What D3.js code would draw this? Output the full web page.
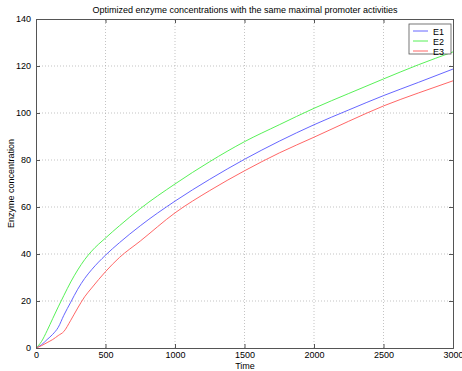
<!doctype html>
<html>
<head>
<meta charset="utf-8">
<script src="https://cdn.jsdelivr.net/npm/d3@7"></script>
<style>
  body { margin: 0; background: #fff; }
  svg { font-family: "Liberation Sans", Helvetica, Arial, sans-serif; }
</style>
</head>
<body>
<script>
const time = [0, 40, 80, 120, 160, 200, 250, 300, 350, 400, 500, 600, 750, 1000, 1250, 1500, 1750, 2000, 2250, 2500, 2750, 3000];
const e1 = [0, 1.4, 3.6, 5.8, 8.8, 13.9, 19.5, 25, 29.6, 33.3, 39.5, 44.8, 52, 62.5, 71.8, 80.3, 88, 95, 101.3, 107.4, 113, 118.7];
const e2 = [0, 2.8, 7.4, 12.5, 17.5, 22.3, 28.1, 33.2, 37.6, 41.2, 46.8, 52, 59.3, 69.8, 79.3, 87.8, 95, 102, 108.3, 114.5, 120.5, 126];
const e3 = [0, 1, 2.3, 3.6, 5.3, 7, 11.8, 17, 21.8, 25.5, 32.5, 38.5, 45.5, 57.5, 67, 75.4, 83, 89.7, 96.5, 103, 108.5, 113.7];
const seriesNames = ["E1", "E2", "E3"];
const seriesColors = ["#5555ff", "#44ee44", "#ff5555"];
const xTicks = [0, 500, 1000, 1500, 2000, 2500, 3000];
const yTicks = [0, 20, 40, 60, 80, 100, 120, 140];

const W = 462, H = 371;
const margin = {left: 36, right: 9, top: 19, bottom: 23};
const svg = d3.select("body").append("svg").attr("width", W).attr("height", H);

const x = d3.scaleLinear().domain([0, 3000]).range([margin.left, W - margin.right]);
const y = d3.scaleLinear().domain([0, 140]).range([H - margin.bottom, margin.top]);

// grid
svg.append("g").selectAll("line").data(xTicks.slice(1, -1)).join("line")
  .attr("x1", d => x(d)).attr("x2", d => x(d))
  .attr("y1", y(0)).attr("y2", y(140))
  .attr("stroke", "#aaa").attr("stroke-width", 0.7).attr("stroke-dasharray", "1,2");
svg.append("g").selectAll("line").data(yTicks.slice(1, -1)).join("line")
  .attr("x1", x(0)).attr("x2", x(3000))
  .attr("y1", d => y(d)).attr("y2", d => y(d))
  .attr("stroke", "#aaa").attr("stroke-width", 0.7).attr("stroke-dasharray", "1,2");

// lines
const series = [e1, e2, e3];
const line = d3.line().x((d, i) => x(time[i])).y(d => y(d)).curve(d3.curveMonotoneX);
svg.append("g").selectAll("path").data(series).join("path")
  .attr("d", d => line(d))
  .attr("fill", "none")
  .attr("stroke", (d, i) => seriesColors[i])
  .attr("stroke-width", 0.9);

// axes (ticks inward, box)
const axisColor = "#555";
const fmt = d3.format("d");
svg.append("g").attr("transform", `translate(0,${y(0)})`)
  .call(d3.axisBottom(x).tickValues(xTicks).tickFormat(fmt).tickSize(-4).tickPadding(4));
svg.append("g").attr("transform", `translate(${x(0)},0)`)
  .call(d3.axisLeft(y).tickValues(yTicks).tickFormat(fmt).tickSize(-4).tickPadding(5));
svg.append("g").attr("transform", `translate(0,${y(140)})`)
  .call(d3.axisTop(x).tickValues(xTicks).tickSize(-4).tickFormat(""));
svg.append("g").attr("transform", `translate(${x(3000)},0)`)
  .call(d3.axisRight(y).tickValues(yTicks).tickSize(-4).tickFormat(""));
svg.selectAll(".domain, .tick line").attr("stroke", axisColor);
svg.selectAll(".tick text").attr("font-size", 9).attr("fill", "#000")
  .attr("font-family", "Liberation Sans, Arial, sans-serif");

// labels
svg.append("text").attr("x", 245).attr("y", 13).attr("text-anchor", "middle")
  .attr("font-size", 9).text("Optimized enzyme concentrations with the same maximal promoter activities");
svg.append("text").attr("x", 245).attr("y", 369).attr("text-anchor", "middle")
  .attr("font-size", 9).text("Time");
svg.append("text").attr("transform", `translate(14,${(y(0) + y(140)) / 2}) rotate(-90)`)
  .attr("text-anchor", "middle").attr("font-size", 9).text("Enzyme concentration");

// legend
const lg = svg.append("g").attr("transform", "translate(409,24)");
lg.append("rect").attr("width", 42).attr("height", 30)
  .attr("fill", "#fff").attr("stroke", axisColor).attr("stroke-width", 0.8);
seriesNames.forEach((name, i) => {
  const yy = 7 + i * 10;
  lg.append("line").attr("x1", 4).attr("x2", 19).attr("y1", yy).attr("y2", yy)
    .attr("stroke", seriesColors[i]).attr("stroke-width", 0.9);
  lg.append("text").attr("x", 24).attr("y", yy + 3.5).attr("font-size", 9).text(name);
});
</script>
</body>
</html>
